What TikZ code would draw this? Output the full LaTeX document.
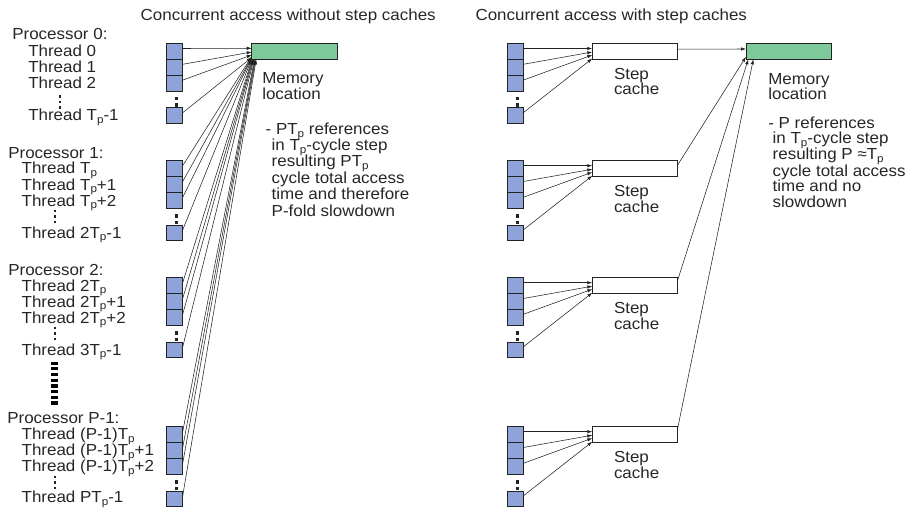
\documentclass[tikz,border=0pt]{standalone}
\usepackage{fontspec}
\setmainfont[FakeStretch=1.06]{Liberation Sans}
\usetikzlibrary{arrows.meta,calc}
\definecolor{boxblue}{RGB}{142,164,216}
\definecolor{memgreen}{RGB}{126,201,154}
\definecolor{edge}{RGB}{35,35,35}
\newcommand\tsub[1]{\raisebox{-2.6pt}{\fontsize{11}{11}\selectfont #1}}
\begin{document}
\begin{tikzpicture}[x=1pt,y=-1pt,
  every node/.style={inner sep=0pt, outer sep=0pt},
  txt/.style={anchor=base west, font=\fontsize{16}{16}\selectfont, text=black!85},
  tbox/.style={draw=edge, line width=0.7pt, fill=boxblue, minimum width=16pt, minimum height=15.8pt, anchor=north west},
  membox/.style={draw=edge, line width=0.7pt, fill=memgreen, minimum width=85.5pt, minimum height=16pt, anchor=north west},
  cachebox/.style={draw=edge, line width=0.7pt, fill=white, minimum width=85.5pt, minimum height=16pt, anchor=north west},
  conn/.style={draw=edge, line width=0.55pt, -{Latex[length=5pt,width=3.4pt]}},
]
\useasboundingbox (0,0) rectangle (913,508);

% titles
\node[txt] (titleL) at (140.7,20.7) {Concurrent access without step caches};
\node[txt] (titleR) at (475.5,20.3) {Concurrent access with step caches};

% memory locations
\node[membox] (memL) at (251.7,43.3) {};
\node[membox] (memR) at (746,43.3) {};

% thread boxes, step caches, dots
\foreach \g/\gy in {0/43.5,1/160.7,2/277.7,3/426.7}{
  \foreach \i/\o in {0/0,1/15.8,2/31.6,3/64.2}{
    \node[tbox] (L\g\i) at (166.7,\gy+\o) {};
    \node[tbox] (R\g\i) at (507.3,\gy+\o) {};
  }
  \fill[edge] (175,\gy+53.3) rectangle ++(3,3.6);
  \fill[edge] (175,\gy+59.8) rectangle ++(3,3.6);
  \fill[edge] (515.6,\gy+53.3) rectangle ++(3,3.6);
  \fill[edge] (515.6,\gy+59.8) rectangle ++(3,3.6);
  \node[cachebox] (sc\g) at (592.3,\gy) {};
  \node[txt] (scA\g) at (614,\gy+35.8) {Step};
  \node[txt] (scB\g) at (614,\gy+51.5) {cache};
}

% thread labels
\node[txt] (p0) at (12.3,39.8) {Processor 0:};
\node[txt] (t00) at (28.3,56.8) {Thread 0};
\node[txt] (t01) at (28.3,72.8) {Thread 1};
\node[txt] (t02) at (28.3,88.8) {Thread 2};
\node[txt] (t03) at (28.3,121) {Thread T\tsub{p}-1};

\node[txt] (p1) at (8.3,158) {Processor 1:};
\node[txt] (t10) at (21.7,174) {Thread T\tsub{p}};
\node[txt] (t11) at (21.7,190) {Thread T\tsub{p}+1};
\node[txt] (t12) at (21.7,206) {Thread T\tsub{p}+2};
\node[txt] (t13) at (21.7,238.2) {Thread 2T\tsub{p}-1};

\node[txt] (p2) at (8.3,275) {Processor 2:};
\node[txt] (t20) at (21.7,291) {Thread 2T\tsub{p}};
\node[txt] (t21) at (21.7,307) {Thread 2T\tsub{p}+1};
\node[txt] (t22) at (21.7,323) {Thread 2T\tsub{p}+2};
\node[txt] (t23) at (21.7,355.2) {Thread 3T\tsub{p}-1};

\node[txt] (p3) at (7.3,423.5) {Processor P-1:};
\node[txt] (t30) at (21.7,439.5) {Thread (P-1)T\tsub{p}};
\node[txt] (t31) at (21.7,455.5) {Thread (P-1)T\tsub{p}+1};
\node[txt] (t32) at (21.7,471.5) {Thread (P-1)T\tsub{p}+2};
\node[txt] (t33) at (21.7,502.5) {Thread PT\tsub{p}-1};

% small vertical dots in label column
\foreach \x/\gy in {60/46.5,55/160.7,55/277.7,55/426.7}{
  \foreach \d in {50,55.5,61}{
    \fill[edge] (\x-1.2,\gy+\d-1.2) rectangle ++(2.5,2.5);
  }
}
% big dashed ellipsis
\draw[black, line width=7pt, dash pattern=on 3.2pt off 2.5pt] (54.7,361.5) -- (54.7,405);

% left texts
\node[txt] (mL1) at (262.3,84) {Memory};
\node[txt] (mL2) at (262.3,99.5) {location};
\node[txt] (dL1) at (265.7,134.5) {- PT\tsub{p} references};
\node[txt] (dL2) at (271.7,150.5) {in T\tsub{p}-cycle step};
\node[txt] (dL3) at (271.7,166.5) {resulting PT\tsub{p}};
\node[txt] (dL4) at (271.7,183) {cycle total access};
\node[txt] (dL5) at (271.7,199.5) {time and therefore};
\node[txt] (dL6) at (271.7,216) {P-fold slowdown};

% right texts
\node[txt] (mR1) at (768.3,85) {Memory};
\node[txt] (mR2) at (768.3,100) {location};
\node[txt] (dR1) at (768.3,128.3) {- P references};
\node[txt] (dR2) at (772.7,144) {in T\tsub{p}-cycle step};
\node[txt] (dR3) at (772.7,160) {resulting P ≈T\tsub{p}};
\node[txt] (dR4) at (772.7,176) {cycle total access};
\node[txt] (dR5) at (772.7,191.7) {time and no};
\node[txt] (dR6) at (772.7,207.3) {slowdown};

% left connectors: threads -> memory
\draw[conn] ([yshift=-5pt]L00.north east) -- ([yshift=-5pt]memL.north west);
\draw[conn] ([yshift=-5pt]L01.north east) -- ([yshift=-8.7pt]memL.north west);
\draw[conn] ([yshift=-5pt]L02.north east) -- ([yshift=-11.7pt]memL.north west);
\draw[conn] ([yshift=-5pt]L03.north east) -- ([yshift=-14.2pt]memL.north west);
\foreach \i/\s in {0/-13.2,1/-14.1,2/-15,3/-15.8}{
  \draw[conn] ([yshift=-5pt]L1\i.north east) -- ([yshift=\s pt]memL.north west);
}
\foreach \i/\s in {0/0.3,1/0.9,2/1.5,3/2.1}{
  \draw[conn] ([yshift=-5pt]L2\i.north east) -- ([xshift=\s pt]memL.south west);
}
\foreach \i/\s in {0/2.7,1/3.3,2/3.9,3/4.5}{
  \draw[conn] ([yshift=-5pt]L3\i.north east) -- ([xshift=\s pt]memL.south west);
}

% right connectors: threads -> step caches
\foreach \g in {0,1,2,3}{
  \draw[conn] ([yshift=-5pt]R\g0.north east) -- ([yshift=-5pt]sc\g.north west);
  \draw[conn] ([yshift=-5pt]R\g1.north east) -- ([yshift=-8.5pt]sc\g.north west);
  \draw[conn] ([yshift=-5pt]R\g2.north east) -- ([yshift=-11.5pt]sc\g.north west);
  \draw[conn] ([yshift=-5pt]R\g3.north east) -- ([yshift=-15pt]sc\g.north west);
}
% step caches -> memory
\draw[conn] ([yshift=-5.7pt]sc0.north east) -- ([yshift=-5.7pt]memR.north west);
\draw[conn] ([yshift=-4pt]sc1.north east) -- ([yshift=-13.5pt]memR.north west);
\draw[conn] ([yshift=-2pt]sc2.north east) -- ([xshift=2.3pt]memR.south west);
\draw[conn] ([yshift=-1pt]sc3.north east) -- ([xshift=7.3pt]memR.south west);
\end{tikzpicture}
\end{document}
